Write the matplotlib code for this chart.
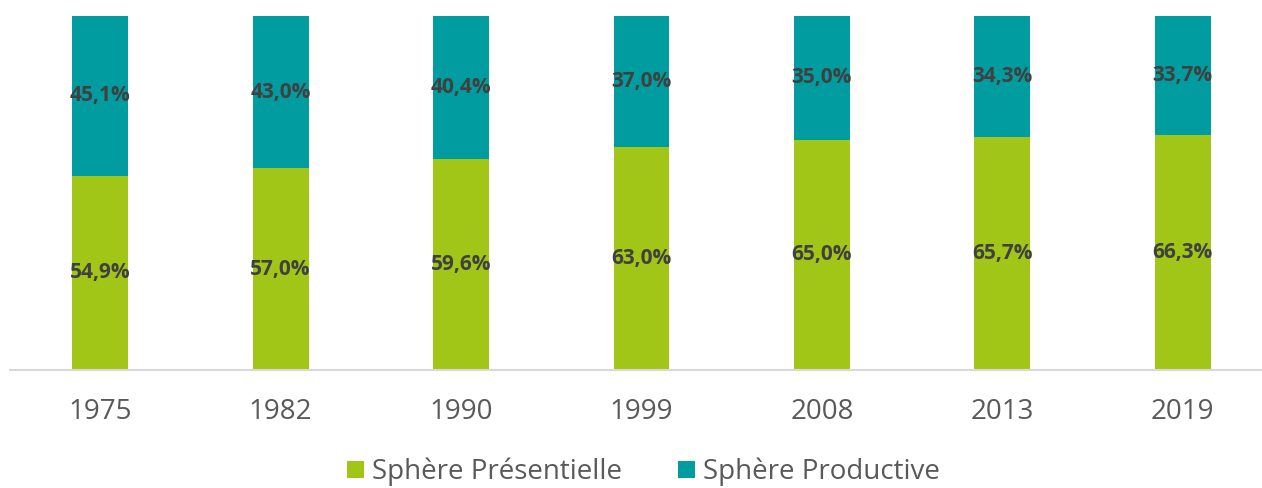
import matplotlib.pyplot as plt
import numpy as np

plt.rcParams['font.family'] = ['Open Sans', 'DejaVu Sans']

years = ['1975', '1982', '1990', '1999', '2008', '2013', '2019']
presentielle = [54.9, 57.0, 59.6, 63.0, 65.0, 65.7, 66.3]
productive = [45.1, 43.0, 40.4, 37.0, 35.0, 34.3, 33.7]

green = '#A2C617'
teal = '#009C9F'

fig = plt.figure(figsize=(12.62, 4.88), dpi=100)
ax = fig.add_axes([10 / 1262, 118 / 488, 1263 / 1262, 354 / 488])

x = np.arange(len(years))
w = 0.31
ax.bar(x, presentielle, w, color=green, label='Sphère Présentielle')
ax.bar(x, productive, w, bottom=presentielle, color=teal, label='Sphère Productive')

# value labels in the middle of each segment
for i in range(len(years)):
    ax.text(x[i], presentielle[i] / 2, '{:.1f}%'.format(presentielle[i]).replace('.', ','),
            ha='center', va='center', fontsize=15, fontweight='bold', color='#404040')
    ax.text(x[i], presentielle[i] + productive[i] / 2, '{:.1f}%'.format(productive[i]).replace('.', ','),
            ha='center', va='center', fontsize=15, fontweight='bold', color='#404040')

ax.set_xlim(-0.5, 6.5)
ax.set_ylim(0, 100)
ax.set_xticks(x)
ax.set_xticklabels(years, fontsize=20, color='#595959')
ax.tick_params(axis='x', length=0, pad=20)
ax.set_yticks([])
for s in ['top', 'right', 'left']:
    ax.spines[s].set_visible(False)
ax.spines['bottom'].set_color('#D9D9D9')
ax.spines['bottom'].set_linewidth(1.5)

fig.legend(loc='center', bbox_to_anchor=(0.51, 16 / 488), ncol=2, frameon=False,
           fontsize=20, labelcolor='#595959', handlelength=0.6, handleheight=0.6,
           handletextpad=0.3, columnspacing=2.0)

fig.savefig('out.png', dpi=100)
